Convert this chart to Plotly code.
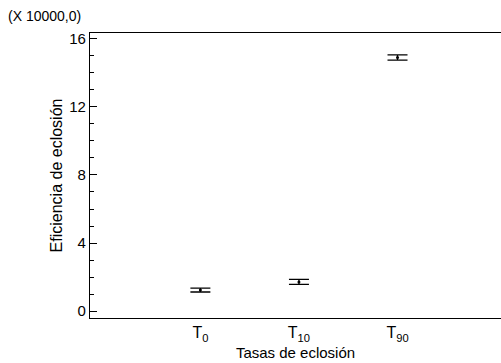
import plotly.graph_objects as go

categories = ["T<sub>0</sub>", "T<sub>10</sub>", "T<sub>90</sub>"]
means = [1.23, 1.71, 14.91]
err_plus = [0.12, 0.15, 0.15]
err_minus = [0.11, 0.14, 0.15]
y_ticks = [0, 4, 8, 12, 16]

xpos = list(range(len(categories)))

fig = go.Figure()
fig.add_trace(go.Scatter(
    x=xpos, y=means, mode="markers",
    marker=dict(color="black", size=3, symbol="circle"),
    error_y=dict(type="data", symmetric=False, array=err_plus, arrayminus=err_minus,
                 color="black", thickness=1.3, width=10),
    showlegend=False,
))

font = "Liberation Sans, Arial, sans-serif"
fig.update_layout(
    width=501, height=363,
    margin=dict(l=90, r=0, t=33, b=45),
    paper_bgcolor="white", plot_bgcolor="white",
    font=dict(family=font, color="black", size=15),
    xaxis=dict(
        range=[-1.12, 3.05], tickmode="array", tickvals=xpos, ticktext=categories,
        showgrid=False, zeroline=False, showline=True, linecolor="black", linewidth=1.2,
        mirror=True, ticks="", tickfont=dict(size=16),
        title=dict(text="Tasas de eclosión", font=dict(size=15), standoff=0),
    ),
    yaxis=dict(
        range=[-0.41, 16.35], tickmode="array", tickvals=y_ticks,
        showgrid=False, zeroline=False, showline=True, linecolor="black", linewidth=1.2,
        ticks="inside", ticklen=7, tickcolor="black", tickfont=dict(size=15),
        minor=dict(ticks="inside", dtick=1, ticklen=4, tickcolor="black", showgrid=False),
        title=dict(text="Eficiencia de eclosión", font=dict(size=16), standoff=2),
    ),
    annotations=[dict(
        text="(X 10000,0)", xref="paper", yref="paper", x=-0.205, y=1.058,
        xanchor="left", yanchor="middle", showarrow=False, font=dict(size=14),
    )],
)

fig.write_html("out.html", config={"displayModeBar": False},
               post_script="document.body.style.margin='0';document.body.style.overflow='hidden';")
